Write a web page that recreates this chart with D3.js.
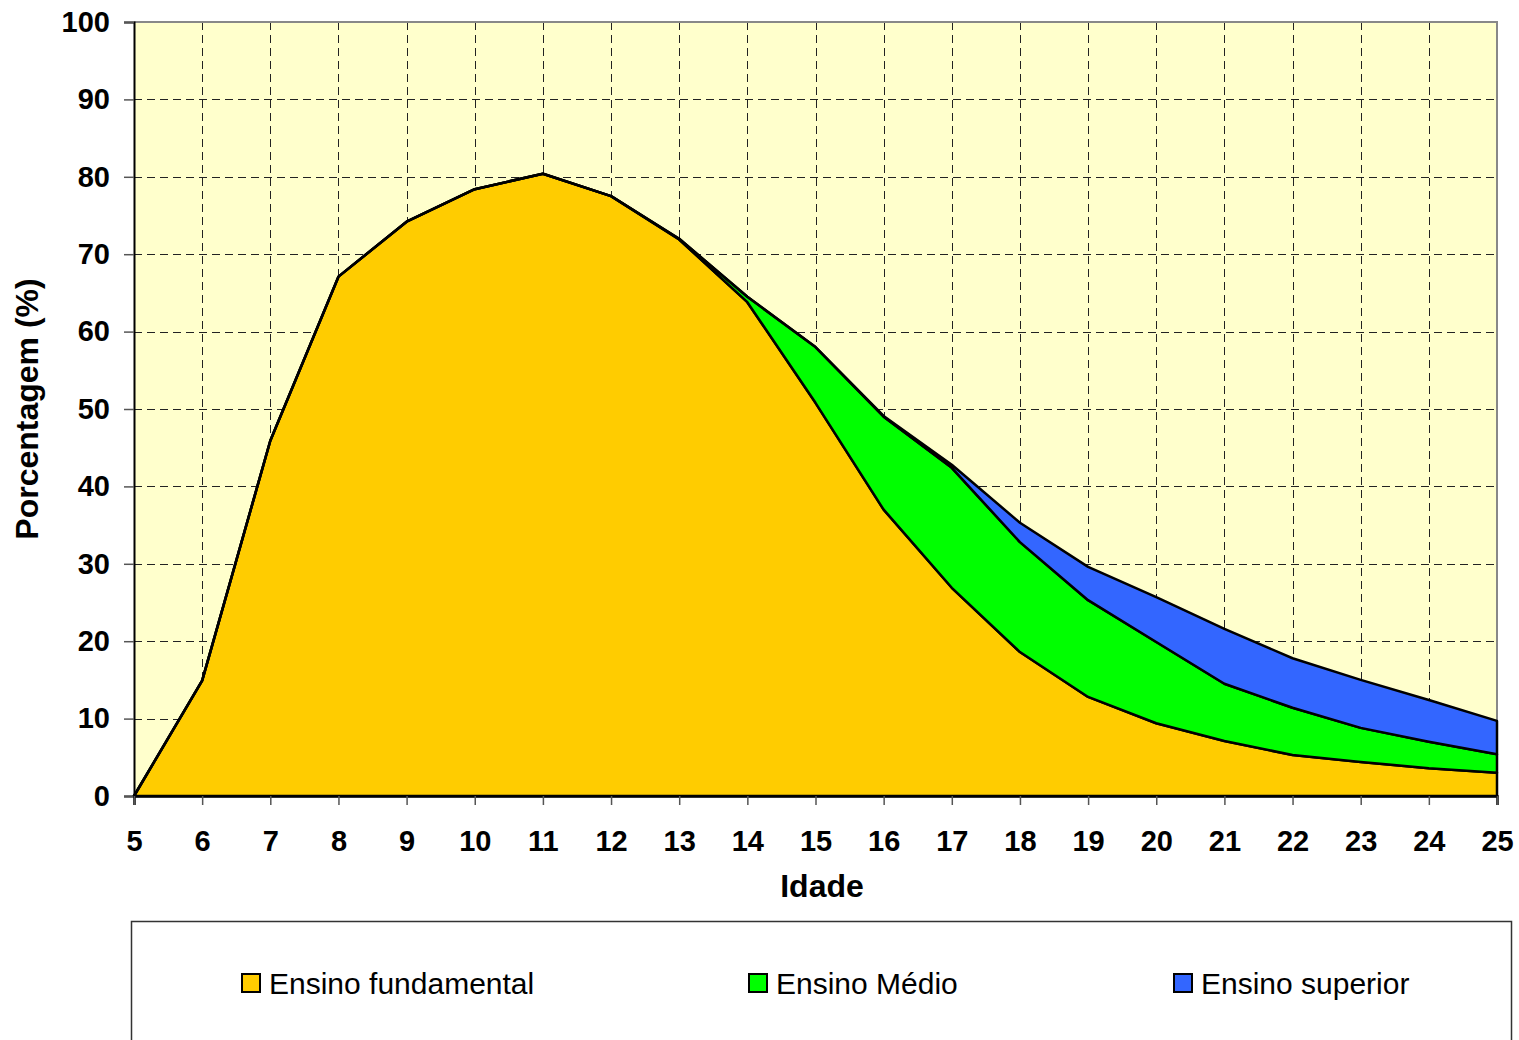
<!DOCTYPE html>
<html>
<head>
<meta charset="utf-8">
<script src="https://cdn.jsdelivr.net/npm/d3@7"></script>
<style>
    body { margin: 0; background: #ffffff; }
    text { font-family: "Liberation Sans", Arial, sans-serif; }
</style>
</head>
<body>
<div id="chart"></div>
<script>
// data (percent of each age group)
const ages = [5, 6, 7, 8, 9, 10, 11, 12, 13, 14, 15, 16, 17, 18, 19, 20, 21, 22, 23, 24, 25];
const fundamental = [0, 14.9, 45.9, 67.1, 74.2, 78.4, 80.4, 77.5, 71.9, 63.8, 50.8, 37.0, 26.9, 18.6, 12.8, 9.4, 7.1, 5.3, 4.4, 3.6, 3.0];
const medio = [0, 0, 0, 0, 0, 0, 0, 0, 0.1, 0.7, 7.2, 12.0, 15.5, 14.2, 12.5, 10.5, 7.4, 6.1, 4.4, 3.4, 2.4];
const superior = [0, 0, 0, 0, 0, 0, 0, 0, 0, 0, 0, 0.1, 0.4, 2.5, 4.3, 5.8, 7.1, 6.4, 6.2, 5.4, 4.3];
const seriesNames = ["Ensino fundamental", "Ensino Médio", "Ensino superior"];
const seriesColors = ["#FFCC00", "#00FF00", "#3366FF"];
const yTicks = [0, 10, 20, 30, 40, 50, 60, 70, 80, 90, 100];

function stackedChart()
{
    // set spacing
    width = 1519;
    height = 1040;
    margin = ({top: 22, right: 22, bottom: 244, left: 134});
    plot_width = width - margin.left - margin.right;
    plot_height = height - margin.top - margin.bottom;
    // build rows for the stack
    const rows = ages.map((a, i) => ({age: a, f: fundamental[i], m: medio[i], s: superior[i]}));
    const stacked = d3.stack().keys(["f", "m", "s"])(rows);
    // scales
    const xScale = d3.scaleLinear([ages[0], ages[ages.length - 1]], [margin.left, margin.left + plot_width]);
    const yScale = d3.scaleLinear([0, 100], [margin.top + plot_height, margin.top]);

    const svg = d3.select("#chart").append("svg")
        .attr("width", width)
        .attr("height", height)
        .attr("viewBox", [0, 0, width, height]);

    // plot background
    svg.append("rect")
        .attr("x", margin.left)
        .attr("y", margin.top)
        .attr("width", plot_width)
        .attr("height", plot_height)
        .attr("fill", "#FFFFCC");

    // dashed grid
    const grid = svg.append("g")
        .attr("stroke", "#222")
        .attr("stroke-width", 1)
        .attr("stroke-dasharray", "8,5");
    grid.selectAll(".hgrid")
        .data(yTicks.filter(d => d > 0 && d < 100))
        .join("line")
        .attr("x1", margin.left)
        .attr("x2", margin.left + plot_width)
        .attr("y1", d => Math.round(yScale(d)) + 0.5)
        .attr("y2", d => Math.round(yScale(d)) + 0.5);
    grid.selectAll(".vgrid")
        .data(ages.slice(1, -1))
        .join("line")
        .attr("x1", d => Math.round(xScale(d)) + 0.5)
        .attr("x2", d => Math.round(xScale(d)) + 0.5)
        .attr("y1", margin.top)
        .attr("y2", margin.top + plot_height);

    // top and right frame in gray
    svg.append("path")
        .attr("d", `M${margin.left},${margin.top}H${margin.left + plot_width}V${margin.top + plot_height}`)
        .attr("fill", "none")
        .attr("stroke", "#888")
        .attr("stroke-width", 2);

    // stacked areas
    const area = d3.area()
        .x(d => xScale(d.data.age))
        .y0(d => yScale(d[0]))
        .y1(d => yScale(d[1]));
    svg.append("g")
        .selectAll("path")
        .data(stacked)
        .join("path")
        .attr("d", area)
        .attr("fill", (d, i) => seriesColors[i])
        .attr("stroke", "#000")
        .attr("stroke-width", 2.5)
        .attr("stroke-linejoin", "round");

    // y axis
    const yAxis = d3.axisLeft(yScale).tickValues(yTicks).tickSize(10).tickPadding(14);
    svg.append("g")
        .attr("transform", `translate(${margin.left},0)`)
        .call(yAxis)
        .call(g => g.select(".domain").attr("stroke", "#000").attr("stroke-width", 2))
        .call(g => g.selectAll(".tick line").attr("stroke", "#555").attr("stroke-width", 1.5))
        .call(g => g.selectAll(".tick text")
            .attr("font-family", "Liberation Sans, Arial, sans-serif")
            .attr("font-size", 29)
            .attr("font-weight", "bold")
            .attr("fill", "#000"));

    // x axis
    const xAxis = d3.axisBottom(xScale).tickValues(ages).tickFormat(d3.format("d")).tickSize(9).tickPadding(25);
    svg.append("g")
        .attr("transform", `translate(0,${margin.top + plot_height})`)
        .call(xAxis)
        .call(g => g.select(".domain").attr("stroke", "#000").attr("stroke-width", 2.5))
        .call(g => g.selectAll(".tick line").attr("stroke", "#555").attr("stroke-width", 1.5))
        .call(g => g.selectAll(".tick text")
            .attr("font-family", "Liberation Sans, Arial, sans-serif")
            .attr("font-size", 29)
            .attr("font-weight", "bold")
            .attr("fill", "#000"));

    // axis titles
    svg.append("text")
        .attr("x", 822)
        .attr("y", 897)
        .attr("text-anchor", "middle")
        .attr("font-size", 32)
        .attr("font-weight", "bold")
        .text("Idade");
    svg.append("text")
        .attr("transform", `translate(38,${margin.top + plot_height / 2}) rotate(-90)`)
        .attr("text-anchor", "middle")
        .attr("font-size", 32)
        .attr("font-weight", "bold")
        .text("Porcentagem (%)");

    // legend box
    svg.append("rect")
        .attr("x", 131.5)
        .attr("y", 921.5)
        .attr("width", 1380)
        .attr("height", 140)
        .attr("fill", "#fff")
        .attr("stroke", "#333")
        .attr("stroke-width", 1.5);
    const legendX = [242, 749, 1174];
    const legend = svg.append("g")
        .selectAll("g")
        .data(seriesNames)
        .join("g")
        .attr("transform", (d, i) => `translate(${legendX[i]},974)`);
    legend.append("rect")
        .attr("width", 18)
        .attr("height", 18)
        .attr("fill", (d, i) => seriesColors[i])
        .attr("stroke", "#000")
        .attr("stroke-width", 2);
    legend.append("text")
        .attr("x", 27)
        .attr("y", 20)
        .attr("font-size", 30)
        .attr("fill", "#000")
        .text(d => d);

    return svg.node();
}

stackedChart();
</script>
</body>
</html>
